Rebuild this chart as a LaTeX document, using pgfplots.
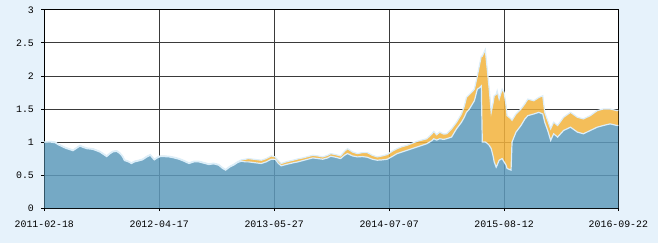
\documentclass[border=0pt]{standalone}
\usepackage{pgfplots}
\pgfplotsset{compat=1.18}
\usepackage{pgfplotstable}
\usepgfplotslibrary{fillbetween}
\usepackage{fontspec}
\setmainfont{Liberation Mono}
\definecolor{bg}{HTML}{E6F2FB}
\definecolor{bluefill}{HTML}{5E9ABC}
\definecolor{orangefill}{HTML}{F3B33D}
\definecolor{edge}{HTML}{DCEEF9}
\definecolor{gridc}{HTML}{3A3A3A}

\pgfplotstableread{
x b o
0 1.00 1.00
6 1.00 1.01
11 0.99 1.00
14 0.96 0.97
21 0.91 0.92
25 0.89 0.90
29 0.87 0.88
36 0.94 0.95
39 0.92 0.93
43 0.90 0.91
49 0.89 0.90
56 0.85 0.86
59 0.82 0.83
63 0.78 0.79
66 0.82 0.83
69 0.85 0.86
73 0.86 0.87
76 0.83 0.84
79 0.78 0.79
81 0.72 0.73
85 0.70 0.71
88 0.675 0.685
91 0.70 0.71
94 0.71 0.72
99 0.73 0.74
103 0.77 0.78
107 0.80 0.81
111 0.73 0.74
114 0.76 0.77
117 0.78 0.79
121 0.78 0.79
126 0.775 0.785
131 0.76 0.77
136 0.74 0.75
141 0.71 0.72
146 0.675 0.685
151 0.70 0.71
156 0.70 0.71
161 0.68 0.69
166 0.66 0.67
171 0.67 0.68
176 0.65 0.66
180 0.60 0.61
183 0.575 0.585
187 0.62 0.63
191 0.65 0.66
195 0.69 0.70
199 0.71 0.73
203 0.70 0.74
206 0.70 0.75
211 0.69 0.74
219 0.675 0.725
224 0.70 0.75
229 0.74 0.79
233 0.74 0.775
236 0.68 0.72
239 0.64 0.675
244 0.66 0.70
251 0.685 0.725
256 0.70 0.745
261 0.72 0.76
266 0.74 0.78
271 0.76 0.80
276 0.75 0.79
281 0.74 0.775
286 0.76 0.80
289 0.785 0.825
294 0.77 0.81
299 0.75 0.79
303 0.80 0.86
306 0.825 0.90
311 0.79 0.85
316 0.775 0.825
321 0.78 0.84
326 0.77 0.84
331 0.74 0.80
336 0.725 0.775
341 0.73 0.79
346 0.74 0.81
351 0.78 0.86
356 0.825 0.90
361 0.85 0.93
366 0.875 0.95
371 0.90 0.98
376 0.925 1.01
381 0.95 1.03
386 0.975 1.05
391 1.02 1.12
393 1.05 1.16
396 1.03 1.11
399 1.05 1.15
403 1.04 1.12
406 1.05 1.125
411 1.075 1.20
416 1.20 1.30
421 1.30 1.425
424 1.38 1.55
426 1.45 1.675
429 1.50 1.72
431 1.55 1.75
434 1.625 1.80
437 1.80 2.00
439 1.82 2.15
441 1.85 2.30
442 1.00 2.30
445 1.00 2.40
447 0.98 2.10
449 0.95 1.80
451 0.90 1.45
453 0.78 1.60
454 0.70 1.70
456 0.62 1.72
457 0.65 1.775
459 0.725 1.65
462 0.75 1.80
464 0.70 1.75
466 0.65 1.55
467 0.60 1.40
471 0.575 1.35
472 1.00 1.33
476 1.15 1.425
481 1.25 1.50
485 1.35 1.58
488 1.40 1.65
494 1.425 1.625
499 1.45 1.675
503 1.425 1.70
505 1.30 1.45
508 1.175 1.325
511 1.025 1.20
514 1.125 1.30
518 1.075 1.25
524 1.175 1.375
531 1.225 1.45
538 1.15 1.375
544 1.125 1.35
551 1.175 1.40
558 1.225 1.475
564 1.25 1.50
571 1.275 1.50
578 1.25 1.475
579.3 1.25 1.48
}\datatable

\begin{document}
\pagecolor{bg}
\begin{tikzpicture}
\path (-38.7bp,-35bp) rectangle (619.3bp,210bp);
\begin{axis}[
  at={(0,0)}, anchor=south west,
  scale only axis, width=579.3bp, height=200bp,
  xmin=0, xmax=579.3, ymin=0, ymax=3,
  xtick={0,116,232,348,464,579.3},
  xticklabels={2011-02-18,2012-04-17,2013-05-27,2014-07-07,2015-08-12,2016-09-22},
  ytick={0,0.5,1,1.5,2,2.5,3},
  yticklabels={0,0.5,1,1.5,2,2.5,3},
  grid=major,
  major grid style={gridc, line width=0.9bp},
  axis line style={black, line width=1bp},
  tick style={black, line width=0.9bp},
  tick align=outside, major tick length=3bp,
  xtick pos=bottom, ytick pos=left,
  tick label style={font=\fontsize{10}{12}\selectfont, text=black},
  xticklabel style={yshift=-6bp},
  yticklabel style={xshift=-4bp},
  axis background/.style={fill=white},
]
\addplot[name path=Z, draw=none, forget plot] coordinates {(0,0) (579.3,0)};
\addplot[name path=B, draw=none, forget plot] table[x=x, y=b] {\datatable};
\addplot[name path=O, draw=none, forget plot] table[x=x, y=o] {\datatable};
\addplot[fill=orangefill, fill opacity=0.85, draw=none] fill between[of=O and B];
\addplot[fill=bluefill, fill opacity=0.85, draw=none] fill between[of=B and Z];
\addplot[edge, line width=1.2bp] table[x=x, y=o] {\datatable};
\addplot[edge, line width=1.2bp] table[x=x, y=b] {\datatable};
\end{axis}
\end{tikzpicture}
\end{document}
